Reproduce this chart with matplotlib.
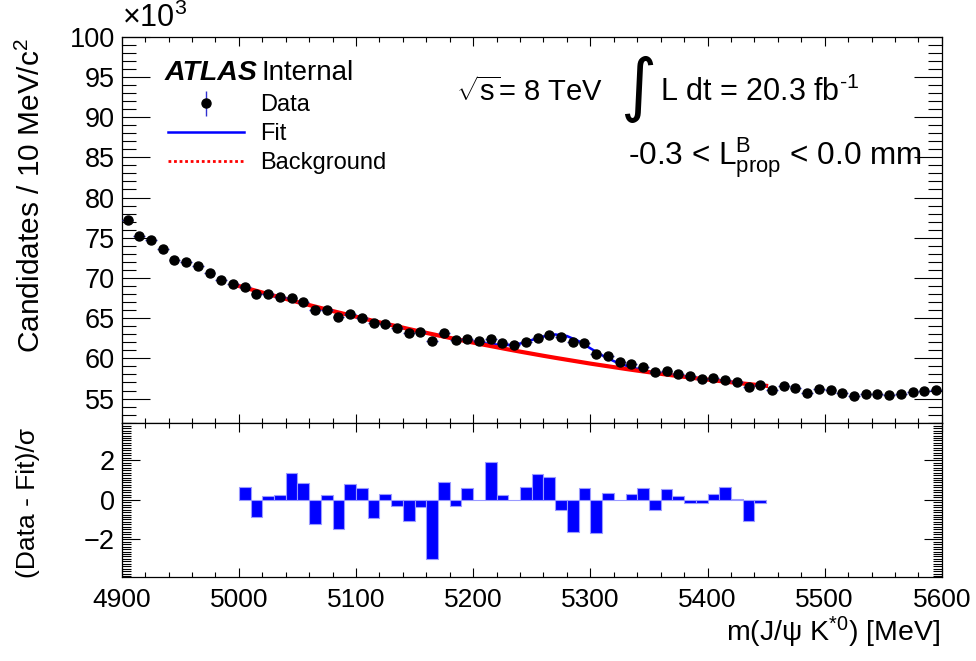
import numpy as np
import matplotlib
matplotlib.use('Agg')
import matplotlib.pyplot as plt
from matplotlib.ticker import MultipleLocator
from matplotlib.lines import Line2D

plt.rcParams['font.family'] = ['Liberation Sans', 'DejaVu Sans']
plt.rcParams['mathtext.fontset'] = 'custom'
plt.rcParams['mathtext.rm'] = 'Liberation Sans'
plt.rcParams['mathtext.it'] = 'Liberation Sans:italic'
plt.rcParams['mathtext.bf'] = 'Liberation Sans:bold'

# data histogram, bin centres in MeV, candidates in units of 10^3
mass = np.arange(4905, 5600, 10)
counts = [77.2, 75.2, 74.7, 73.6, 72.2, 72.0, 71.5, 70.6, 69.8, 69.3,
          68.9, 68.0, 68.0, 67.6, 67.5, 67.0, 66.0, 66.05, 65.2, 65.5,
          65.05, 64.35, 64.27, 63.8, 63.2, 63.3, 62.15, 63.1, 62.3, 62.45,
          62.15, 62.35, 61.9, 61.65, 62.0, 62.5, 62.95, 62.6, 62.07, 61.95,
          60.5, 60.3, 59.5, 59.3, 58.95, 58.25, 58.4, 58.0, 57.75, 57.4,
          57.5, 57.35, 57.05, 56.45, 56.7, 56.05, 56.55, 56.3, 55.65, 56.2,
          56.05, 55.65, 55.35, 55.55, 55.6, 55.4, 55.6, 55.8, 55.93, 56.05]

# fit curves, 5000-5450 MeV
fit_mass = np.arange(5000, 5451, 10)
bkg = [69.00, 68.59, 68.19, 67.79, 67.40, 67.01, 66.63, 66.26, 65.89, 65.53,
       65.18, 64.83, 64.48, 64.15, 63.82, 63.49, 63.17, 62.86, 62.55, 62.25,
       61.96, 61.67, 61.39, 61.11, 60.84, 60.58, 60.32, 60.07, 59.83, 59.59,
       59.35, 59.13, 58.91, 58.69, 58.48, 58.28, 58.08, 57.89, 57.71, 57.53,
       57.36, 57.19, 57.03, 56.88, 56.73, 56.59]
signal = [0, 0, 0, 0, 0, 0, 0, 0, 0, 0,
          0, 0, 0, 0, 0, 0, 0, 0, 0, 0.05,
          0.12, 0.2, 0.33, 0.55, 1.0, 1.7, 2.4, 2.9, 2.95, 2.55,
          1.9, 1.25, 0.75, 0.42, 0.22, 0.1, 0.04, 0, 0, 0,
          0, 0, 0, 0, 0, 0]

# pulls (Data - Fit)/sigma, bins 5005-5445
pull_mass = np.arange(5005, 5450, 10)
pulls = [0.64, -0.88, 0.17, 0.22, 1.35, 0.86, -1.22, 0.22, -1.47, 0.81,
         0.59, -0.93, 0.27, -0.34, -1.08, -0.37, -3.0, 0.91, -0.30, 0.59,
         0.0, 1.91, 0.22, 0.0, 0.64, 1.29, 1.15, -0.54, -1.61, 0.59,
         -1.67, 0.34, 0.0, 0.27, 0.59, -0.51, 0.56, 0.17, -0.17, -0.17,
         0.27, 0.64, 0.05, -1.08, -0.17]

counts = np.array(counts)
fit = np.array(bkg) + np.array(signal)
errs = np.sqrt(counts * 1000) / 1000

fig = plt.figure(figsize=(9.76, 6.61), dpi=100)
ax1 = fig.add_axes([0.1247, 0.3605, 0.8403, 0.584])
ax2 = fig.add_axes([0.1247, 0.1275, 0.8403, 0.233])

ax1.plot(fit_mass, fit, color='#0000ff', lw=1.8, zorder=2)
ax1.plot(fit_mass, bkg, color='#ff0000', lw=3, zorder=3)
ax1.errorbar(mass, counts, xerr=5, yerr=errs, fmt='o', color='k', ms=6.5,
             ecolor='#3030d0', elinewidth=1, capsize=0, zorder=4)

ax1.set_xlim(4900, 5600)
ax1.set_ylim(52, 100)
ax1.xaxis.set_major_locator(MultipleLocator(100))
ax1.xaxis.set_minor_locator(MultipleLocator(20))
ax1.yaxis.set_major_locator(MultipleLocator(5))
ax1.yaxis.set_minor_locator(MultipleLocator(1))
ax1.tick_params(which='both', direction='in', top=True, right=True, width=0.8)
ax1.tick_params(axis='x', which='major', length=6.5, labelbottom=False)
ax1.tick_params(axis='x', which='minor', length=3.5)
ax1.tick_params(axis='y', which='major', length=20, labelsize=19.5, pad=5)
ax1.tick_params(axis='y', which='minor', length=10)

ax2.bar(pull_mass, pulls, width=10, color='#0000ff', edgecolor='#9a9aff',
        linewidth=0.8)
ax2.set_xlim(4900, 5600)
ax2.set_ylim(-3.9, 3.9)
ax2.xaxis.set_major_locator(MultipleLocator(100))
ax2.xaxis.set_minor_locator(MultipleLocator(20))
ax2.yaxis.set_major_locator(MultipleLocator(2))
ax2.yaxis.set_minor_locator(MultipleLocator(0.125))
ax2.tick_params(which='both', direction='in', top=True, right=True, width=0.8)
ax2.tick_params(axis='x', which='major', length=6.5, labelsize=19, pad=8)
ax2.tick_params(axis='x', which='minor', length=3.5)
ax2.tick_params(axis='y', which='major', length=13, labelsize=19.5, pad=5)
ax2.tick_params(axis='y', which='minor', length=6.5)

for ax in (ax1, ax2):
    for s in ax.spines.values():
        s.set_linewidth(0.9)

fig.text(31 / 976, 1 - 38 / 661, 'Candidates / 10 MeV/c$^{2}$', rotation=90,
         ha='center', va='top', fontsize=21.5)
fig.text(28 / 976, 1 - 503 / 661, '(Data - Fit)/σ', rotation=90,
         ha='center', va='center', fontsize=19)
fig.text(940 / 976, 1 - 632 / 661, r'm(J/ψ K$^{\mathrm{*0}}$) [MeV]',
         ha='right', va='center', fontsize=20.5)
fig.text(122 / 976, 1 - 34 / 661, '×10$^{3}$', ha='left', va='bottom',
         fontsize=22)

# ATLAS label
fig.text(165 / 976, 1 - 80 / 661, 'ATLAS', fontsize=20.5, fontweight='bold',
         fontstyle='italic', ha='left', va='baseline')
fig.text(262 / 976, 1 - 80 / 661, 'Internal', fontsize=20, ha='left',
         va='baseline')

fig.text(456 / 976, 1 - 92 / 661, r'$\sqrt{\mathrm{s}}$= 8 TeV', fontsize=21,
         ha='left', va='center')
fig.text(620 / 976, 1 - 89 / 661, '∫', fontsize=50, family='DejaVu Sans',
         ha='left', va='center')
fig.text(660 / 976, 1 - 92 / 661, r'L dt = 20.3 fb$^{\text{-1}}$', fontsize=22,
         ha='left', va='center')
fig.text(628 / 976, 1 - 158 / 661,
         r'-0.3 < L$^{\mathrm{B}}_{\mathrm{prop}}$ < 0.0 mm',
         fontsize=22.7, ha='left', va='center')

h_data = (Line2D([], [], marker='|', color='#3030d0', ms=18, mew=1, ls='none'),
          Line2D([], [], marker='o', color='k', ms=6.5, ls='none'))
h_fit = Line2D([], [], color='#0000ff', lw=1.8)
h_bkg = Line2D([], [], color='#ff0000', lw=2, ls=(0, (1, 1)))
ax1.legend([h_data, h_fit, h_bkg], ['Data', 'Fit', 'Background'],
           loc='upper left', bbox_to_anchor=(0.0564, 0.852), frameon=False,
           fontsize=17, handlelength=3.2, handletextpad=0.7, borderpad=0,
           borderaxespad=0, labelspacing=0.3)

fig.savefig('out.png', dpi=100)
